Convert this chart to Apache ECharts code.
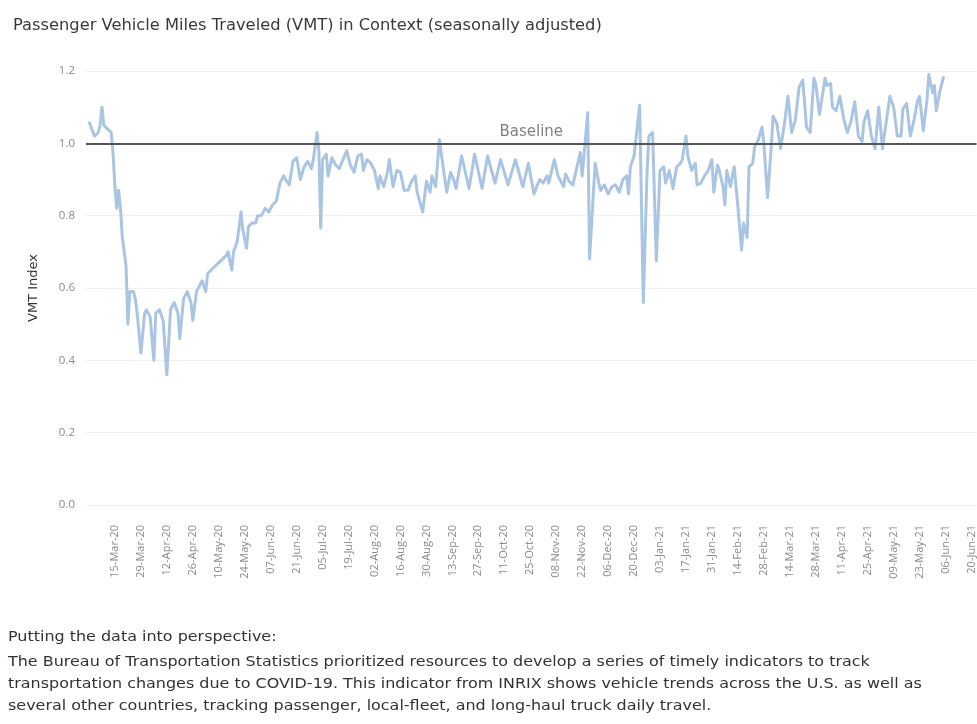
<!DOCTYPE html>
<html style="height: 100%">
<head>
	<meta charset="utf-8">
</head>
<body style="height: 100%; margin: 0; background: #ffffff">
	<div id="container" style="width: 977px; height: 724px"></div>

	<script type="text/javascript" src="https://cdn.jsdelivr.net/npm/echarts@6/dist/echarts.min.js"></script>
	<script type="text/javascript">
		// days (turning points of the daily series)
		var dates = [
			'2020-03-01', '2020-03-04', '2020-03-06', '2020-03-07', '2020-03-08', '2020-03-09', '2020-03-11', '2020-03-13',
			'2020-03-14', '2020-03-15', '2020-03-16', '2020-03-17', '2020-03-18', '2020-03-19', '2020-03-21', '2020-03-22',
			'2020-03-23', '2020-03-25', '2020-03-26', '2020-03-27', '2020-03-29', '2020-03-31', '2020-04-01', '2020-04-03',
			'2020-04-05', '2020-04-06', '2020-04-08', '2020-04-10', '2020-04-12', '2020-04-14', '2020-04-16', '2020-04-18',
			'2020-04-19', '2020-04-21', '2020-04-23', '2020-04-25', '2020-04-26', '2020-04-28', '2020-04-30', '2020-05-01',
			'2020-05-03', '2020-05-04', '2020-05-06', '2020-05-08', '2020-05-10', '2020-05-12', '2020-05-14', '2020-05-15',
			'2020-05-17', '2020-05-18', '2020-05-20', '2020-05-22', '2020-05-23', '2020-05-25', '2020-05-26', '2020-05-28',
			'2020-05-30', '2020-05-31', '2020-06-02', '2020-06-04', '2020-06-06', '2020-06-08', '2020-06-10', '2020-06-12',
			'2020-06-14', '2020-06-15', '2020-06-17', '2020-06-19', '2020-06-21', '2020-06-23', '2020-06-25', '2020-06-27',
			'2020-06-29', '2020-06-30', '2020-07-02', '2020-07-03', '2020-07-04', '2020-07-05', '2020-07-07', '2020-07-08',
			'2020-07-10', '2020-07-12', '2020-07-14', '2020-07-16', '2020-07-18', '2020-07-20', '2020-07-22', '2020-07-24',
			'2020-07-26', '2020-07-27', '2020-07-29', '2020-07-31', '2020-08-02', '2020-08-04', '2020-08-05', '2020-08-07',
			'2020-08-09', '2020-08-10', '2020-08-12', '2020-08-14', '2020-08-16', '2020-08-18', '2020-08-20', '2020-08-22',
			'2020-08-24', '2020-08-25', '2020-08-28', '2020-08-30', '2020-09-01', '2020-09-02', '2020-09-04', '2020-09-06',
			'2020-09-07', '2020-09-08', '2020-09-10', '2020-09-12', '2020-09-14', '2020-09-15', '2020-09-18', '2020-09-22',
			'2020-09-25', '2020-09-29', '2020-10-02', '2020-10-06', '2020-10-09', '2020-10-13', '2020-10-17', '2020-10-21',
			'2020-10-24', '2020-10-27', '2020-10-30', '2020-11-01', '2020-11-03', '2020-11-04', '2020-11-07', '2020-11-09',
			'2020-11-12', '2020-11-13', '2020-11-15', '2020-11-17', '2020-11-21', '2020-11-22', '2020-11-25', '2020-11-26',
			'2020-11-29', '2020-12-01', '2020-12-02', '2020-12-04', '2020-12-06', '2020-12-08', '2020-12-10', '2020-12-12',
			'2020-12-14', '2020-12-16', '2020-12-17', '2020-12-18', '2020-12-20', '2020-12-23', '2020-12-25', '2020-12-27',
			'2020-12-28', '2020-12-30', '2021-01-01', '2021-01-03', '2021-01-05', '2021-01-06', '2021-01-08', '2021-01-10',
			'2021-01-12', '2021-01-14', '2021-01-15', '2021-01-17', '2021-01-18', '2021-01-20', '2021-01-22', '2021-01-23',
			'2021-01-25', '2021-01-27', '2021-01-29', '2021-01-31', '2021-02-01', '2021-02-03', '2021-02-04', '2021-02-06',
			'2021-02-07', '2021-02-08', '2021-02-10', '2021-02-11', '2021-02-12', '2021-02-14', '2021-02-16', '2021-02-17',
			'2021-02-19', '2021-02-20', '2021-02-22', '2021-02-23', '2021-02-25', '2021-02-27', '2021-02-28', '2021-03-02',
			'2021-03-04', '2021-03-05', '2021-03-07', '2021-03-09', '2021-03-11', '2021-03-13', '2021-03-15', '2021-03-17',
			'2021-03-19', '2021-03-21', '2021-03-23', '2021-03-25', '2021-03-27', '2021-03-28', '2021-03-30', '2021-04-02',
			'2021-04-03', '2021-04-05', '2021-04-06', '2021-04-08', '2021-04-10', '2021-04-12', '2021-04-14', '2021-04-16',
			'2021-04-18', '2021-04-20', '2021-04-22', '2021-04-23', '2021-04-25', '2021-04-27', '2021-04-29', '2021-05-01',
			'2021-05-03', '2021-05-05', '2021-05-07', '2021-05-09', '2021-05-11', '2021-05-13', '2021-05-14', '2021-05-16',
			'2021-05-18', '2021-05-20', '2021-05-22', '2021-05-23', '2021-05-25', '2021-05-27', '2021-05-28', '2021-05-30',
			'2021-05-31', '2021-06-01', '2021-06-03', '2021-06-05'
		];

		var vmtIndex = [
			1.06, 1.02, 1.03, 1.05, 1.10, 1.05, 1.04, 1.03,
			0.97, 0.88, 0.82, 0.87, 0.82, 0.74, 0.66, 0.50,
			0.59, 0.59, 0.57, 0.53, 0.42, 0.53, 0.54, 0.52,
			0.40, 0.53, 0.54, 0.51, 0.36, 0.54, 0.56, 0.53,
			0.46, 0.57, 0.59, 0.56, 0.51, 0.59, 0.61, 0.62,
			0.59, 0.64, 0.65, 0.66, 0.67, 0.68, 0.69, 0.70,
			0.65, 0.70, 0.73, 0.81, 0.76, 0.71, 0.77, 0.78,
			0.78, 0.80, 0.80, 0.82, 0.81, 0.83, 0.84, 0.89,
			0.91, 0.90, 0.885, 0.95, 0.96, 0.90, 0.935, 0.95,
			0.93, 0.955, 1.03, 0.98, 0.765, 0.955, 0.97, 0.91,
			0.96, 0.94, 0.93, 0.955, 0.98, 0.94, 0.92, 0.965,
			0.97, 0.925, 0.955, 0.945, 0.925, 0.875, 0.91, 0.88,
			0.92, 0.955, 0.88, 0.925, 0.92, 0.87, 0.87, 0.895,
			0.91, 0.865, 0.81, 0.895, 0.865, 0.91, 0.88, 1.01,
			1.005, 0.935, 0.865, 0.92, 0.895, 0.875, 0.965, 0.875,
			0.97, 0.875, 0.965, 0.89, 0.955, 0.885, 0.955, 0.88,
			0.945, 0.86, 0.90, 0.89, 0.91, 0.89, 0.955, 0.91,
			0.88, 0.915, 0.895, 0.885, 0.975, 0.91, 1.085, 0.68,
			0.945, 0.89, 0.87, 0.885, 0.86, 0.88, 0.885, 0.865,
			0.90, 0.91, 0.86, 0.935, 0.965, 1.105, 0.56, 0.92,
			1.02, 1.03, 0.675, 0.925, 0.935, 0.89, 0.925, 0.875,
			0.935, 0.945, 0.955, 1.02, 0.965, 0.925, 0.945, 0.885,
			0.89, 0.91, 0.925, 0.955, 0.865, 0.94, 0.925, 0.88,
			0.83, 0.925, 0.88, 0.91, 0.935, 0.825, 0.705, 0.78,
			0.74, 0.935, 0.945, 0.99, 1.01, 1.045, 1.00, 0.85,
			0.99, 1.075, 1.055, 0.985, 1.05, 1.13, 1.03, 1.065,
			1.155, 1.175, 1.045, 1.03, 1.18, 1.165, 1.08, 1.18,
			1.16, 1.165, 1.10, 1.09, 1.13, 1.07, 1.03, 1.06,
			1.115, 1.02, 1.005, 1.06, 1.09, 1.02, 0.985, 1.10,
			0.985, 1.06, 1.13, 1.10, 1.02, 1.02, 1.095, 1.11,
			1.02, 1.065, 1.12, 1.13, 1.035, 1.12, 1.19, 1.14,
			1.16, 1.09, 1.145, 1.185
		];

		var tickDates = [
			'2020-03-15', '2020-03-29', '2020-04-12', '2020-04-26', '2020-05-10', '2020-05-24', '2020-06-07',
			'2020-06-21', '2020-07-05', '2020-07-19', '2020-08-02', '2020-08-16', '2020-08-30', '2020-09-13',
			'2020-09-27', '2020-10-11', '2020-10-25', '2020-11-08', '2020-11-22', '2020-12-06', '2020-12-20',
			'2021-01-03', '2021-01-17', '2021-01-31', '2021-02-14', '2021-02-28', '2021-03-14', '2021-03-28',
			'2021-04-11', '2021-04-25', '2021-05-09', '2021-05-23', '2021-06-06', '2021-06-20'
		];

		var baseline = 1.0;

		var monthNames = ['Jan', 'Feb', 'Mar', 'Apr', 'May', 'Jun', 'Jul', 'Aug', 'Sep', 'Oct', 'Nov', 'Dec'];
		var DAY = 86400000;

		function toTime(s) {
			var p = s.split('-');
			return Date.UTC(+p[0], +p[1] - 1, +p[2]);
		}

		function fmtDate(t) {
			var d = new Date(t);
			var dd = d.getUTCDate();
			return (dd < 10 ? '0' + dd : dd) + '-' + monthNames[d.getUTCMonth()] + '-' + String(d.getUTCFullYear()).slice(2);
		}

		var seriesData = dates.map(function (s, i) {
			return [toTime(s), vmtIndex[i]];
		});
		var tickValues = tickDates.map(toTime);
		var start = toTime('2020-03-01');

		var dom = document.getElementById('container');
		var myChart = echarts.init(dom);

		var font = '"Open Sans", sans-serif';
		var wideFont = '"DejaVu Sans", sans-serif';
		var noteFont = '14px ' + wideFont;

		var option = {
			animation: false,
			backgroundColor: '#ffffff',
			title: {
				text: 'Passenger Vehicle Miles Traveled (VMT) in Context (seasonally adjusted)',
				left: 8,
				top: 13,
				textStyle: {
					fontFamily: wideFont,
					fontSize: 16.3,
					fontWeight: 'normal',
					color: '#3a3a3a'
				}
			},
			grid: {
				left: 86,
				right: 0,
				top: 71,
				bottom: 219
			},
			xAxis: {
				type: 'value',
				min: start - 1.6 * DAY,
				max: start + 478.7 * DAY,
				axisLine: { show: false },
				axisTick: { show: false },
				splitLine: { show: false },
				axisLabel: {
					customValues: tickValues,
					rotate: 90,
					margin: 20,
					fontFamily: font,
					fontSize: 11,
					color: '#8a8a8a',
					formatter: function (v) {
						return fmtDate(v);
					}
				}
			},
			yAxis: {
				type: 'value',
				min: 0,
				max: 1.2,
				interval: 0.2,
				name: 'VMT Index',
				nameLocation: 'middle',
				nameGap: 46,
				nameTextStyle: {
					fontFamily: wideFont,
					fontSize: 13,
					color: '#333333'
				},
				axisLine: { show: false },
				axisTick: { show: false },
				axisLabel: {
					margin: 11,
					fontFamily: font,
					fontSize: 11.5,
					color: '#8a8a8a',
					formatter: function (v) {
						return v.toFixed(1);
					}
				},
				splitLine: {
					lineStyle: { color: '#f0f0f0', width: 1 }
				}
			},
			series: [{
				type: 'line',
				data: seriesData,
				showSymbol: false,
				lineStyle: {
					color: '#a9c5e3',
					width: 3,
					join: 'round'
				},
				itemStyle: { color: '#a9c5e3' },
				markLine: {
					silent: true,
					symbol: 'none',
					data: [{ yAxis: baseline }],
					lineStyle: {
						color: '#555555',
						width: 2,
						type: 'solid'
					},
					label: {
						formatter: 'Baseline',
						position: 'insideMiddleTop',
						distance: 4,
						fontFamily: wideFont,
						fontSize: 15,
						color: '#808080'
					}
				}
			}],
			// note under the chart; the source font is wide and short, so stretch it a little
			graphic: [{
				type: 'group',
				left: 8,
				top: 630,
				scaleX: 1.14,
				children: [
					{ type: 'text', x: 0, y: 0, style: { text: 'Putting the data into perspective:', font: noteFont, fill: '#333333' } },
					{ type: 'text', x: 0, y: 25, style: { text: 'The Bureau of Transportation Statistics prioritized resources to develop a series of timely indicators to track', font: noteFont, fill: '#333333' } },
					{ type: 'text', x: 0, y: 47, style: { text: 'transportation changes due to COVID-19. This indicator from INRIX shows vehicle trends across the U.S. as well as', font: noteFont, fill: '#333333' } },
					{ type: 'text', x: 0, y: 69, style: { text: 'several other countries, tracking passenger, local-fleet, and long-haul truck daily travel.', font: noteFont, fill: '#333333' } }
				]
			}]
		};

		myChart.setOption(option);
	</script>
</body>
</html>
